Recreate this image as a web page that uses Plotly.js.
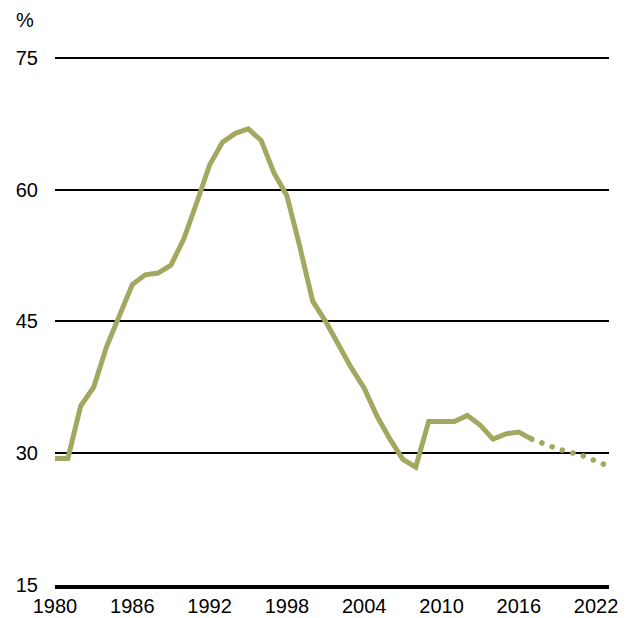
<!DOCTYPE html>
<html>
<head>
<meta charset="utf-8">
<script src="https://cdn.plot.ly/plotly-3.0.1.min.js"></script>
<style>
  html, body { margin: 0; padding: 0; background: #fff; }
  .proj .js-line { stroke-linecap: round !important; stroke-dasharray: 0.1px, 10.75px !important; }
</style>
</head>
<body>
<div id="chart" style="width:629px;height:618px;"></div>
<script>
const yearsActual = [1980,1981,1982,1983,1984,1985,1986,1987,1988,1989,1990,1991,1992,1993,1994,1995,1996,1997,1998,1999,2000,2001,2002,2003,2004,2005,2006,2007,2008,2009,2010,2011,2012,2013,2014,2015,2016,2017];
const valuesActual = [29.4,29.4,35.4,37.5,42.1,45.8,49.2,50.3,50.5,51.4,54.4,58.5,62.8,65.4,66.4,66.9,65.6,61.9,59.3,53.5,47.3,45.0,42.3,39.7,37.4,34.2,31.6,29.3,28.4,33.6,33.6,33.6,34.3,33.2,31.6,32.2,32.4,31.6];
const yearsProj = [2017,2018,2019,2020,2021,2022,2023];
const valuesProj = [31.6,31.0,30.5,30.1,29.7,29.1,28.5];
const yTicks = [15,30,45,60,75];
const xTicks = [1980,1986,1992,1998,2004,2010,2016,2022];
const lineColor = '#A3A75F';

const traces = [
  {x: yearsActual, y: valuesActual, type: 'scatter', mode: 'lines',
   line: {color: lineColor, width: 5}, hoverinfo: 'skip'},
  {x: yearsProj, y: valuesProj, type: 'scatter', mode: 'lines',
   line: {color: lineColor, width: 5.5, dash: 'dot'}, hoverinfo: 'skip'}
];

const layout = {
  width: 629, height: 618,
  margin: {l: 55, r: 20, t: 56, b: 33},
  paper_bgcolor: '#fff', plot_bgcolor: '#fff',
  showlegend: false,
  font: {family: 'Liberation Sans, Arial, sans-serif', size: 20, color: '#000'},
  xaxis: {range: [1980, 2023], tickvals: xTicks, ticktext: xTicks.map(String),
          showgrid: false, zeroline: false, showline: true, linecolor: '#000', linewidth: 4,
          ticks: '', tickfont: {size: 20, color: '#000'}},
  yaxis: {range: [15, 75.2], tickvals: yTicks, ticktext: yTicks.map(String),
          showgrid: true, gridcolor: '#000', gridwidth: 2, zeroline: false, showline: false,
          ticks: '', ticklabelstandoff: 16, tickfont: {size: 20, color: '#000'}},
  annotations: [{text: '%', xref: 'paper', yref: 'paper', x: -0.074, y: 1.044,
                 xanchor: 'left', yanchor: 'bottom', showarrow: false,
                 font: {size: 20, color: '#000'}}]
};

Plotly.newPlot('chart', traces, layout, {staticPlot: true}).then(() => {
  const groups = document.querySelectorAll('.scatterlayer .trace');
  if (groups.length > 1) groups[1].classList.add('proj');
});
</script>
</body>
</html>
